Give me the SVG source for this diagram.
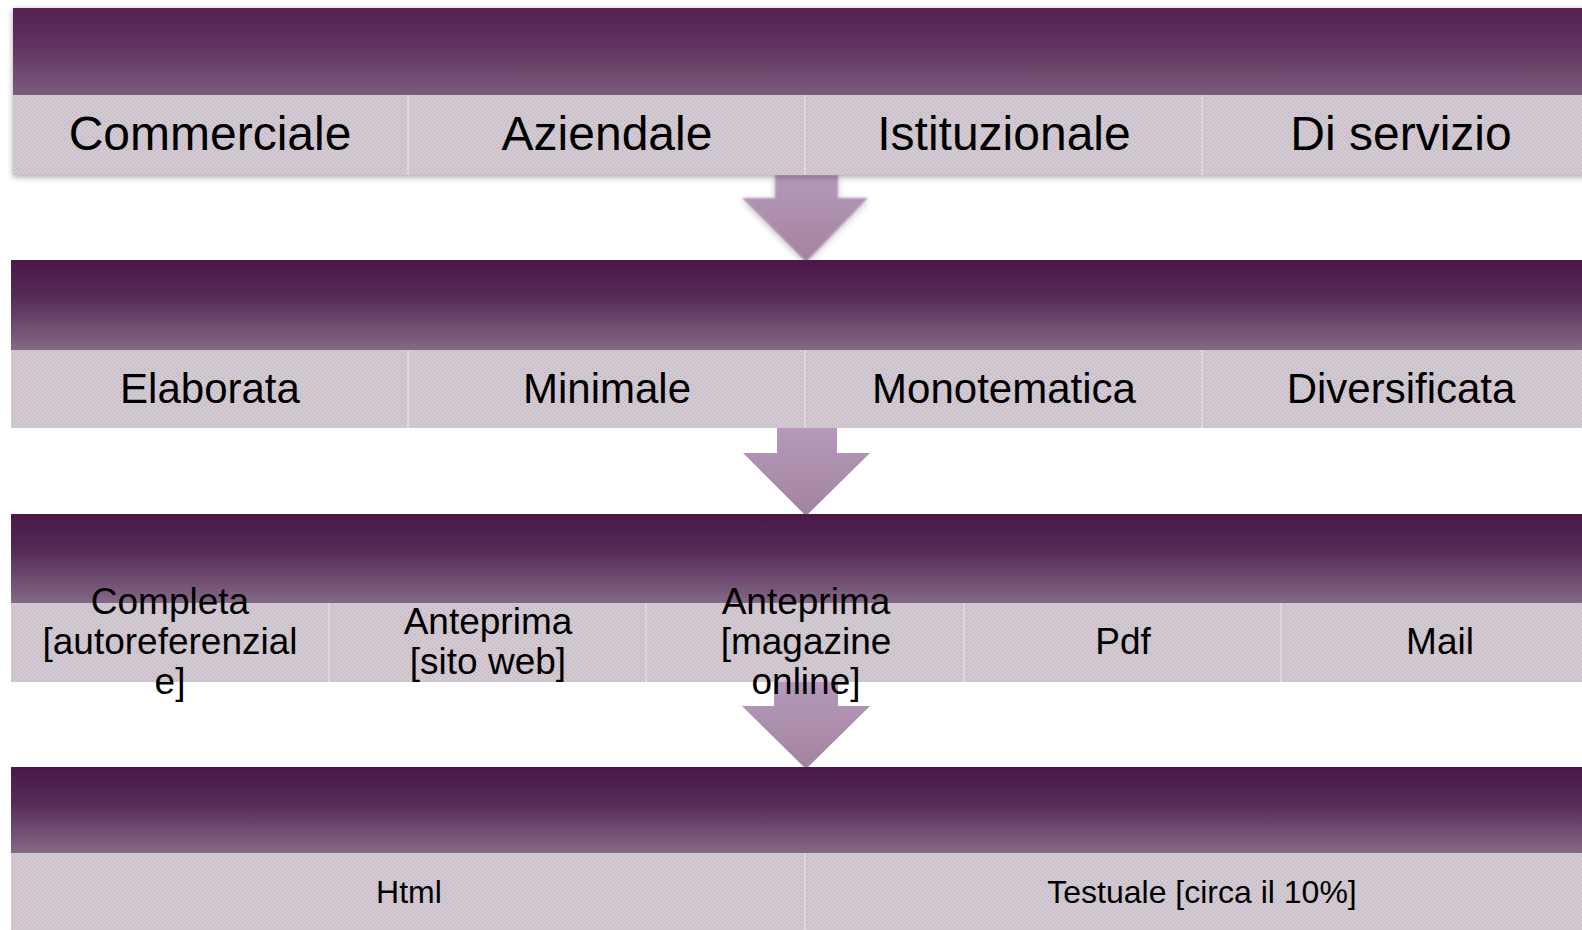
<svg xmlns="http://www.w3.org/2000/svg" width="1582" height="930" viewBox="0 0 1582 930">
<defs>
<linearGradient id="hdr1" x1="0" y1="0" x2="0" y2="1">
<stop offset="0" stop-color="#56214f"/>
<stop offset="0.45" stop-color="#613461"/>
<stop offset="1" stop-color="#7d5b7a"/>
</linearGradient>
<linearGradient id="hdr" x1="0" y1="0" x2="0" y2="1">
<stop offset="0" stop-color="#4a1848"/>
<stop offset="0.4" stop-color="#552a56"/>
<stop offset="1" stop-color="#856886"/>
</linearGradient>
<linearGradient id="arr" x1="0" y1="0" x2="0" y2="1">
<stop offset="0" stop-color="#b599ba"/>
<stop offset="1" stop-color="#a3849f"/>
</linearGradient>
<pattern id="tex" width="4" height="4" patternUnits="userSpaceOnUse">
<rect width="4" height="4" fill="#d0c7d0"/>
<rect x="0" y="0" width="1" height="1" fill="#bfb2bf"/>
<rect x="2" y="2" width="1" height="1" fill="#bfb2bf"/>
<rect x="2" y="0" width="1" height="1" fill="#d9d1d9"/>
<rect x="0" y="2" width="1" height="1" fill="#d9d1d9"/>
</pattern>
<filter id="shadow" x="-5%" y="-20%" width="110%" height="140%">
<feDropShadow dx="0" dy="2" stdDeviation="3" flood-color="#000" flood-opacity="0.35"/>
</filter>
<filter id="ashadow" x="-30%" y="-30%" width="160%" height="160%">
<feGaussianBlur stdDeviation="1.2" result="b"/>
<feDropShadow dx="0" dy="2" stdDeviation="3" flood-color="#000" flood-opacity="0.25"/>
</filter>
<style>
.lt{fill:url(#tex)}
.dv{stroke:#ddd6dd;stroke-width:2}
.t{font-family:"Liberation Sans",Arial,sans-serif;fill:#000;text-anchor:middle}
.t1{font-size:48px}
.t2{font-size:42px}
.t3{font-size:37px}
.t4{font-size:32px}
.ar{fill:url(#arr)}
</style>
</defs>
<rect width="1582" height="930" fill="#fff"/>

<g id="connectors">
<path class="ar" filter="url(#ashadow)" d="M775,175 H838 V198 H868 L806,262 L742,198 H775 Z"/>
<path class="ar" d="M777,428 H837 V453 H870 L806,516 L743,453 H777 Z"/>
<path class="ar" d="M774,682 H838 V706 H870 L806,769 L742,706 H774 Z"/>
</g>

<g id="row1" filter="url(#shadow)">
<rect x="13" y="8" width="1600" height="87" fill="url(#hdr1)"/>
<rect class="lt" x="13" y="95" width="1600" height="80"/>
<line class="dv" x1="408" y1="95" x2="408" y2="175"/>
<line class="dv" x1="805" y1="95" x2="805" y2="175"/>
<line class="dv" x1="1202" y1="95" x2="1202" y2="175"/>
</g>
<g id="row1-labels">
<text class="t t1" x="210" y="150">Commerciale</text>
<text class="t t1" x="607" y="150">Aziendale</text>
<text class="t t1" x="1004" y="150">Istituzionale</text>
<text class="t t1" x="1401" y="150">Di servizio</text>
</g>

<g id="row2">
<rect x="11" y="260" width="1600" height="90" fill="url(#hdr)"/>
<rect class="lt" x="11" y="350" width="1600" height="78"/>
<line class="dv" x1="408" y1="350" x2="408" y2="428"/>
<line class="dv" x1="805" y1="350" x2="805" y2="428"/>
<line class="dv" x1="1202" y1="350" x2="1202" y2="428"/>
<text class="t t2" x="210" y="403">Elaborata</text>
<text class="t t2" x="607" y="403">Minimale</text>
<text class="t t2" x="1004" y="403">Monotematica</text>
<text class="t t2" x="1401" y="403">Diversificata</text>
</g>

<g id="row3">
<rect x="11" y="514" width="1600" height="89" fill="url(#hdr)"/>
<rect class="lt" x="11" y="603" width="1600" height="79"/>
<line class="dv" x1="329" y1="603" x2="329" y2="682"/>
<line class="dv" x1="646" y1="603" x2="646" y2="682"/>
<line class="dv" x1="964" y1="603" x2="964" y2="682"/>
<line class="dv" x1="1281" y1="603" x2="1281" y2="682"/>
<text class="t t3" x="170" y="614">Completa</text>
<text class="t t3" x="170" y="654">[autoreferenzial</text>
<text class="t t3" x="170" y="694">e]</text>
<text class="t t3" x="488" y="634">Anteprima</text>
<text class="t t3" x="488" y="674">[sito web]</text>
<text class="t t3" x="806" y="614">Anteprima</text>
<text class="t t3" x="806" y="654">[magazine</text>
<text class="t t3" x="806" y="694">online]</text>
<text class="t t3" x="1123" y="654">Pdf</text>
<text class="t t3" x="1440" y="654">Mail</text>
</g>

<g id="row4">
<rect x="11" y="767" width="1600" height="86" fill="url(#hdr)"/>
<rect class="lt" x="11" y="853" width="1600" height="80"/>
<line class="dv" x1="805" y1="853" x2="805" y2="930"/>
<text class="t t4" x="409" y="903">Html</text>
<text class="t t4" x="1202" y="903">Testuale [circa il 10%]</text>
</g>
</svg>
